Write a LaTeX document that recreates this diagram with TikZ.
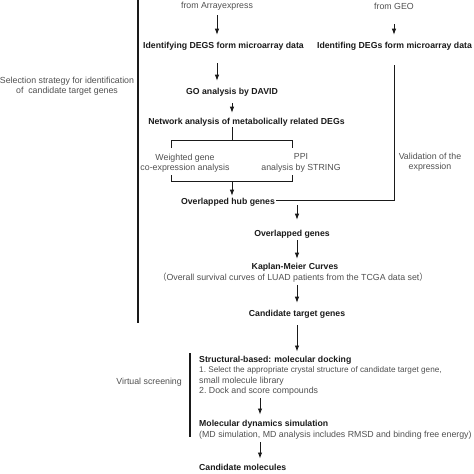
\documentclass[tikz,border=0pt]{standalone}
\usepackage{fontspec}
\setmainfont{Liberation Sans}
\newfontfamily\cjk{Noto Sans CJK SC}
\usetikzlibrary{arrows.meta}
\definecolor{txtgray}{HTML}{505050}
\definecolor{txtdark}{HTML}{1A1A1A}

\begin{document}
\begin{tikzpicture}[x=1pt,y=-1pt,
  lbl/.style={inner sep=1pt, align=center, text=txtgray, font=\fontsize{8.8}{10.3}\selectfont\frenchspacing},
  hd/.style={lbl, text=txtdark, font=\fontsize{8.7}{10.3}\selectfont\bfseries},
  arr/.style={-{Latex[length=6pt,width=4.5pt]}, line width=0.9pt, draw=txtdark},
  ln/.style={line width=0.8pt, draw=txtdark}]
  \useasboundingbox (0,0) rectangle (474,474);

  % selection strategy
  \node[lbl] at (217,6) (ae) {from Arrayexpress};
  \node[lbl] at (394,6) (geo) {from GEO};
  \node[hd] at (223.5,46) (deg1) {Identifying DEGS form microarray data};
  \node[hd] at (394.5,46) (deg2) {Identifing DEGs form microarray data};
  \node[lbl] at (67,86) (sel) {Selection strategy for identification\\of\ \ candidate target genes};
  \node[hd] at (232,92) (go) {GO analysis by DAVID};
  \node[hd] at (246.5,122) (net) {Network analysis of metabolically related DEGs};
  \node[lbl] at (185,163) (wgc) {Weighted gene\\co-expression analysis};
  \node[lbl] at (301,163) (ppi) {PPI\\analysis by STRING};
  \node[lbl] at (430,162) (val) {Validation of the\\expression};
  \node[hd] at (228,202) (hub) {Overlapped hub genes};
  \node[hd] at (292,234) (ov) {Overlapped genes};
  \node[hd] at (295,267) (km) {Kaplan-Meier Curves};
  \node[lbl] at (293,278) (kmsub) {{\cjk （}Overall survival curves of LUAD patients from the TCGA data set{\cjk ）}};
  \node[hd] at (297,314) (cand) {Candidate target genes};

  % virtual screening
  \node[lbl, anchor=east] at (183,382) (vs) {Virtual screening};
  \node[hd, anchor=base west] at (198,362) (struct) {Structural-based: molecular docking};
  \node[lbl, anchor=base west, font=\fontsize{8.2}{10.3}\selectfont\frenchspacing] at (198,372) (dock1) {1. Select the appropriate crystal structure of candidate target gene,};
  \node[lbl, anchor=base west] at (198,383) (dock2) {small molecule library};
  \node[lbl, anchor=base west] at (198,393) (dock3) {2. Dock and score compounds};
  \node[hd, anchor=base west] at (198,426) (md) {Molecular dynamics simulation};
  \node[lbl, anchor=base west] at (198,437) (mdsub) {(MD simulation, MD analysis includes RMSD and binding free energy)};
  \node[hd, anchor=base west] at (198,470) (cm) {Candidate molecules};

  \draw[line width=1.1pt, txtdark] (138,0) -- (138,323);
  \draw[line width=1.1pt, txtdark] (190,353) -- (190,437);

  \foreach \a/\b/\c/\s/\e in {ae/deg1/ae/4/6, geo/deg2/geo/14/6, deg1/go/ae/12/6, go/net/go/6/4}
    \draw[arr, shorten <=\s pt, shorten >=\e pt] (\a.south -| \c) -- (\b.north -| \c);

  % bracket round the two network analyses
  \coordinate (brtop) at (232,140);
  \coordinate (brbot) at (232,181);
  \draw[ln] (net.south -| brtop) -- (brtop);
  \draw[ln] (171,148) -- (171,140) -- (292,140) -- (292,148);
  \draw[ln] (171,175) -- (171,181) -- (292,181) -- (292,175);
  \draw[arr, shorten >=1pt] (brbot) -- (hub.north -| brbot);

  \draw[ln] ([yshift=-14pt]deg2.south) |- ([yshift=2pt]hub.east);
  \draw[arr, shorten >=9pt] ([yshift=-3pt]hub.east -| cand) -- (ov.north -| cand);

  \foreach \a/\b/\s/\e in {ov/km/1/3, kmsub/cand/1/6, cand/struct/6/3}
    \draw[arr, shorten <=\s pt, shorten >=\e pt] (\a.south -| cand) -- (\b.north -| cand);

  \foreach \a/\b in {dock3/md, mdsub/cm}
    \draw[arr, shorten <=2pt, shorten >=4pt] ([xshift=62pt]\a.south west) -- ([xshift=62pt]\b.north west);
\end{tikzpicture}
\end{document}
